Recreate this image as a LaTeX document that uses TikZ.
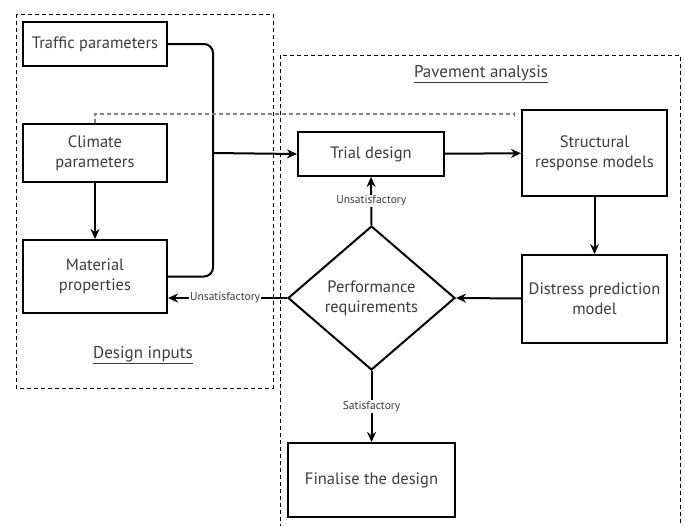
\documentclass[tikz,border=0pt]{standalone}
\usepackage{fontspec}
\setmainfont{PT Sans}
\usepackage{tikz}
\usetikzlibrary{arrows.meta,shapes.geometric,positioning}

\definecolor{inkgrey}{RGB}{60,60,60}

\tikzset{
  box/.style={draw, line width=2pt, rectangle, inner sep=0pt, align=center,
    text=inkgrey, font=\fontsize{16.5}{20}\selectfont},
  decide/.style={draw, line width=2pt, diamond, inner sep=0pt, align=center,
    minimum width=167pt, minimum height=144pt, text=inkgrey,
    font=\fontsize{16.5}{20}\selectfont},
  group/.style={draw, dashed, line width=0.9pt, dash pattern=on 4pt off 3pt},
  arr/.style={line width=2pt, -{Stealth[length=10pt,width=9pt]}},
  flow/.style={line width=2pt},
  tag/.style={text=inkgrey, font=\fontsize{11.5}{13}\selectfont, fill=white, inner sep=1pt},
  head/.style={text=inkgrey, font=\fontsize{17}{20}\selectfont},
  climlink/.style={draw=gray, dashed, line width=1.2pt, dash pattern=on 4pt off 3pt}
}

\begin{document}
\begin{tikzpicture}[x=1pt,y=-1pt]
    \useasboundingbox (0,0) rectangle (685,525);

    % dashed groups
    \draw[group] (16,14) rectangle (273,388);
    \draw[group] (280,55) rectangle (680,530);
    \node[head] (inputs) at (143,355) {\underline{Design inputs}};
    \node[head] (analysis) at (481,74) {\underline{Pavement analysis}};

    % \node[style] (identifier) at (position) {display};
    \node[box, minimum width=144pt, minimum height=44pt] (traffic) at (95,44) {Traffic parameters};
    \node[box, minimum width=144pt, minimum height=58pt] (climate) at (95,153) {Climate\\parameters};
    \node[box, minimum width=144pt, minimum height=73pt] (material) at (95,276.5) {Material\\properties};
    \node[box, minimum width=146pt, minimum height=44pt] (trial) at (371,154) {Trial design};
    \node[box, minimum width=145pt, minimum height=86pt] (structural) at (594.5,153) {Structural\\response models};
    \node[box, minimum width=145pt, minimum height=88pt] (distress) at (594.5,299) {Distress prediction\\model};
    \node[decide] (perf) at (371.5,298) {Performance\\requirements};
    \node[box, minimum width=167pt, minimum height=74pt] (finalise) at (371.5,480) {Finalise the design};

    \coordinate (junc) at (213,153);
    \coordinate (climend) at (515,114);

    % inputs merge into the trial design
    \draw[flow, rounded corners=9pt] (traffic.east) -| (junc) |- (material.east);
    \draw[arr] (junc) -- (trial.west);
    \draw[arr] (climate) -- (material);
    \draw[climlink, -{Bar[width=5pt]}] (climate.north) |- (climend);

    % (start identifier) -- (target identifier)
    \draw[arr] (trial) -- (structural);
    \draw[arr] (structural) -- (distress);
    \draw[arr] (distress) -- (perf.east);
    \draw[arr] (perf.north) -- node[tag] {Unsatisfactory} (trial.south);
    \draw[arr] (perf.south) -- node[tag] {Satisfactory} (finalise.north);
    \draw[arr] (perf.west) -- node[tag, pos=0.52] {Unsatisfactory} (perf.west -| material.east);
\end{tikzpicture}
\end{document}
